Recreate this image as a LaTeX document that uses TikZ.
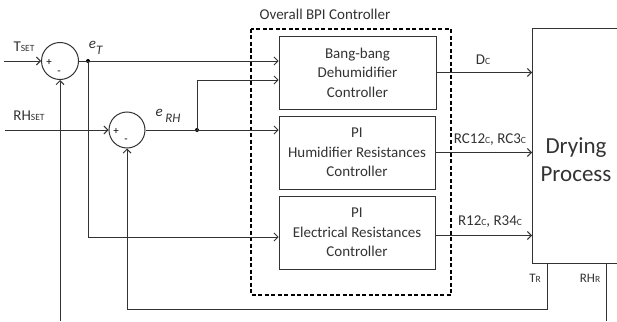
\documentclass[tikz,border=0pt]{standalone}
\usepackage{fontspec}
\setmainfont{Carlito}
\usetikzlibrary{arrows.meta,calc}
\begin{document}
\begin{tikzpicture}[x=1pt,y=-1pt,
  line width=0.9pt, draw=black!80,
  >={Straight Barb[length=4pt,width=8pt,line width=0.9pt]},
  sumj/.style={draw, circle, inner sep=0pt, line width=1pt},
  blk/.style={draw, rectangle, minimum width=156pt, minimum height=73pt, align=center, inner sep=0pt,
     font=\fontsize{15}{19.5}\selectfont, text=black!80},
  lbl/.style={inner sep=0pt, font=\fontsize{15}{16}\selectfont, text=black!80},
  sgn/.style={inner sep=0pt, font=\fontsize{11}{11}\selectfont},
  jdot/.style={circle, fill=black, inner sep=0pt, minimum size=4pt}]
\useasboundingbox (0,0) rectangle (617,321);
\clip (0,0) rectangle (617,321);
\newcommand{\sm}[1]{{\fontsize{9.5}{10}\selectfont #1}}

% summing junctions
\node[sumj, minimum size=37pt] (s1) at (60,61) {};
\node[sumj, minimum size=36pt] (s2) at (127,130) {};
\node[sgn] at (49,62) {+};
\node[sgn] at (59,73) {-};
\node[sgn] at (116,131) {+};
\node[sgn] at (126,141) {-};

% controller boxes
\node[blk, minimum width=157pt] (bb) at (357.5,72.5) {Bang-bang\\Dehumidifier\\Controller};
\node[blk] (hr) at (357,152.5) {PI\\Humidifier Resistances\\Controller};
\node[blk] (er) at (357,232.5) {PI\\Electrical Resistances\\Controller};

% overall dashed box
\draw[dashed, dash pattern=on 4pt off 2.5pt, line width=1.3pt, black] (251,29) rectangle (451,295);
\node[lbl] (ovl) at (325,14) {Overall BPI Controller};

% process
\node[draw, rectangle, minimum width=120pt, minimum height=235pt, anchor=north west, inner sep=0pt] (proc) at (532,28) {};
\node[inner sep=0pt, align=center, font=\fontsize{23}{28}\selectfont, text=black!80] (ptxt) at (576,160) {Drying\\Process};

% inputs
\coordinate (tin) at (4,61);
\coordinate (rhin) at (5,130);
\node[lbl] (tset) at (24,47) {T\sm{SET}};
\node[lbl] (rhset) at (29,116) {RH\sm{SET}};
\draw[->] (tin) -- (s1.west);
\draw[->] (rhin) -- (s2.west);

% error signals
\node[jdot] (d1) at (88,61) {};
\node[jdot] (d2) at (197,130) {};
\node[inner sep=0pt, font=\fontsize{15}{15}\selectfont, text=black!80] (eT) at (96,48) {\textit{e}\raisebox{-6pt}{\textit{\fontsize{13}{13}\selectfont T}}};
\node[inner sep=0pt, font=\fontsize{15}{15}\selectfont, text=black!80] (eRH) at (168,116) {\textit{e}\,\raisebox{-6pt}{\textit{\fontsize{13}{13}\selectfont RH}}};
\draw[->] (s1.east) -- (s1.east -| bb.west);
\draw[->] (s2.east) -- (s2.east -| hr.west);
\draw[->] (d2.center) |- ([yshift=-7.5pt]bb.west);
\draw[->] (d1.center) |- ([yshift=-4.5pt]er.west);

% outputs
\draw[->] (bb.east) -- (bb.east -| proc.west);
\draw[->] (hr.east) -- (hr.east -| proc.west);
\draw[->] ([yshift=-3pt]er.east) -- ([yshift=-3pt]er.east -| proc.west);
\node[lbl] (dc) at (483,60) {D\sm{C}};
\node[lbl] (rc) at (490,140) {RC12\sm{C}, RC3\sm{C}};
\node[lbl] (rr) at (490,222) {R12\sm{C}, R34\sm{C}};

% feedback
\coordinate (tr) at ([xshift=15pt]proc.south west);
\coordinate (rhr) at ([xshift=74pt]proc.south west);
\coordinate (c1) at (547,309);
\coordinate (rhend) at (606,321);
\coordinate (fb1) at (60,321);
\node[lbl, font=\fontsize{13}{13}\selectfont] (trl) at (535,278) {T\sm{R}};
\node[lbl, font=\fontsize{13}{13}\selectfont] (rhrl) at (590,278) {RH\sm{R}};
\draw[->] (tr) -- (c1) -| (s2.south);
\draw (rhr) -- (rhend);
\draw[->] (fb1) -- (s1.south);
\end{tikzpicture}
\end{document}
